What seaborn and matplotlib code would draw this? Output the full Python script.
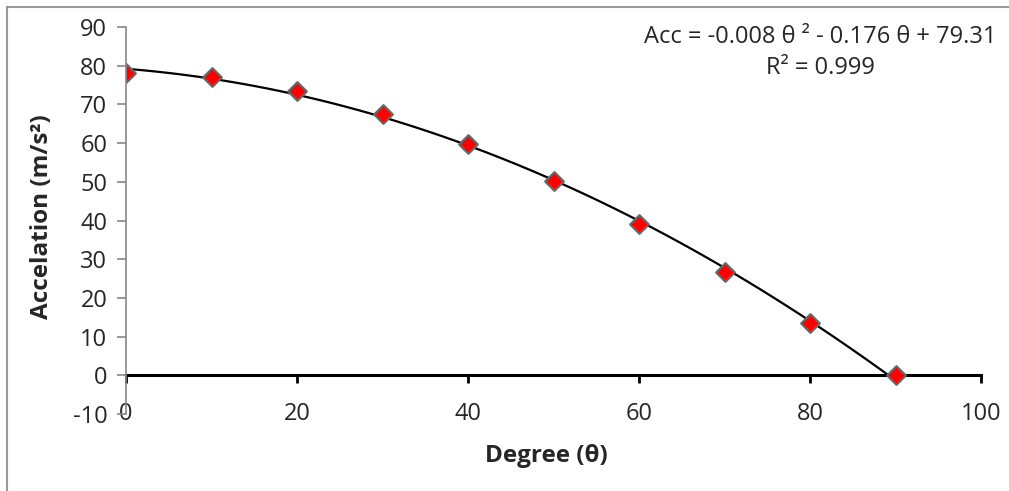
import numpy as np
import pandas as pd
import matplotlib
matplotlib.use("Agg")
import matplotlib.pyplot as plt
import seaborn as sns

# data
degree = [0, 10, 20, 30, 40, 50, 60, 70, 80, 90]
acc = [78.0, 77.0, 73.5, 67.6, 59.8, 50.2, 39.0, 26.6, 13.6, 0.0]
x_ticks = [0, 20, 40, 60, 80, 100]
y_ticks = [-10, 0, 10, 20, 30, 40, 50, 60, 70, 80, 90]

df = pd.DataFrame({'Degree': degree, 'Acc': acc})

sns.set_style('white')
plt.rcParams['font.family'] = ['Open Sans', 'DejaVu Sans']
plt.rcParams['axes.unicode_minus'] = False

fig = plt.figure(figsize=(10.09, 4.91), dpi=100)
ax = fig.add_axes([126 / 1009, 77 / 491, 855 / 1009, 387 / 491])

# polynomial trendline + markers
sns.regplot(x='Degree', y='Acc', data=df, order=2, ci=None, ax=ax, marker='D',
            scatter_kws={'s': 90, 'color': 'red', 'edgecolor': '#666666',
                         'linewidths': 1.6, 'alpha': 1, 'zorder': 4},
            line_kws={'color': 'black', 'linewidth': 1.6, 'zorder': 3})

ax.set_xlim(0, 100)
ax.set_ylim(-10, 90)
ax.set_xticks(x_ticks)
ax.set_yticks(y_ticks)

# axis styling like excel
for s in ['top', 'right']:
    ax.spines[s].set_visible(False)
ax.spines['bottom'].set_position(('data', 0))
ax.spines['bottom'].set_color('black')
ax.spines['bottom'].set_linewidth(2.2)
ax.spines['left'].set_color('#888888')
ax.spines['left'].set_linewidth(1.2)
ax.spines['left'].set_zorder(5)

ax.tick_params(axis='y', left=True, direction='out', length=6.5, width=1.2,
               color='#888888', labelsize=17, pad=7)
ax.tick_params(axis='x', bottom=True, direction='out', length=6, width=2,
               color='black', labelsize=17, pad=13)
ax.set_xlabel('Degree (θ)', fontsize=17.5, fontweight='bold')
ax.xaxis.set_label_coords(0.492, -0.109)
ax.xaxis.label.set_va('center')
ax.set_ylabel('Accelation (m/s²)', fontsize=17.5, fontweight='bold')
ax.yaxis.set_label_coords(-0.098, 0.51)
ax.yaxis.label.set_va('center')

ax.text(820 / 1009, 1 - 37 / 491, 'Acc = -0.008 θ ² - 0.176 θ + 79.31',
        transform=fig.transFigure, ha='center', va='center', fontsize=17)
ax.text(820 / 1009, 1 - 68 / 491, 'R² = 0.999',
        transform=fig.transFigure, ha='center', va='center', fontsize=17)

# light gray frame of the chart area (left and top edges visible)
fig.add_artist(plt.Line2D([7 / 1009, 7 / 1009], [0, 1 - 7 / 491],
                          transform=fig.transFigure, color='#999999', lw=1.5))
fig.add_artist(plt.Line2D([7 / 1009, 1], [1 - 7 / 491, 1 - 7 / 491],
                          transform=fig.transFigure, color='#999999', lw=1.5))

fig.savefig('out.png', dpi=100)
